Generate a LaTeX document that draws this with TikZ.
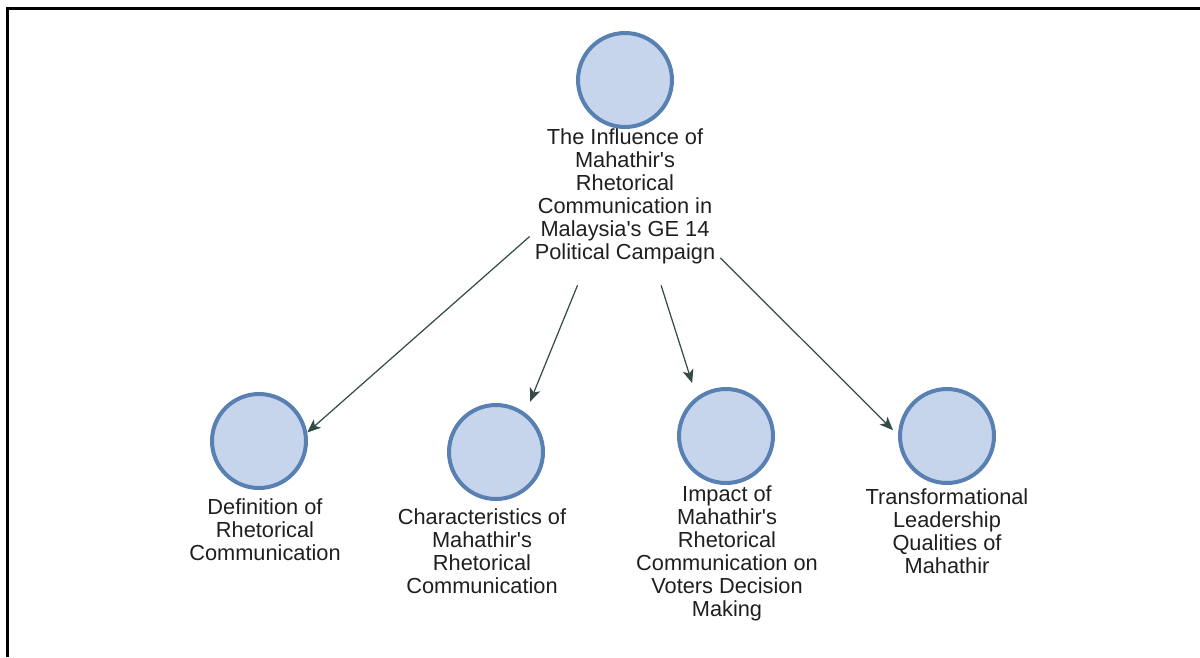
\documentclass[tikz,border=0pt]{standalone}
\usepackage{fontspec}
\setmainfont{Liberation Sans}
\usetikzlibrary{arrows.meta}

\definecolor{nodefill}{RGB}{198,213,235}
\definecolor{nodeline}{RGB}{88,128,178}
\definecolor{linkcol}{RGB}{52,76,72}

\tikzset{
 topic/.style={circle, draw=nodeline, fill=nodefill, line width=0.08cm, minimum size=1.88cm, inner sep=0pt},
 caption/.style={align=center, inner sep=0pt, text=black!88, font=\fontsize{12.4}{13.1}\selectfont},
 link/.style={draw=linkcol, line width=0.7pt, -{Stealth[length=0.27cm, width=0.22cm, inset=0.07cm]}}
}

\begin{document}
\begin{tikzpicture}[x=0.02cm, y=-0.02cm]
\useasboundingbox (0,0) rectangle (1200,657);
% frame
\draw[line width=0.06cm] (1200,8.5) -| (7.5,657);

% main topic
\node[topic] (root) at (625,80) {};
\node[caption, minimum width=3.8cm, minimum height=3.56cm] (rootlbl) at (625,196)
 {The Influence of\\Mahathir\textquotesingle s\\Rhetorical\\Communication in\\Malaysia\textquotesingle s GE 14\\Political Campaign};

% sub topics
\foreach \n/\x/\y in {def/259/441, cha/496/452, imp/726/436, tra/947/436} {
 \node[topic] (\n) at (\x,\y) {};
}
\node[caption] (deflbl) at (265,530) {Definition of\\Rhetorical\\Communication};
\node[caption] (chalbl) at (482,551) {Characteristics of\\Mahathir\textquotesingle s\\Rhetorical\\Communication};
\node[caption] (implbl) at (727,553) {Impact of\\Mahathir\textquotesingle s\\Rhetorical\\Communication on\\Voters Decision\\Making};
\node[caption] (tralbl) at (947,531) {Transformational\\Leadership\\Qualities of\\Mahathir};

% links
\draw[link] (rootlbl.203) -- (def.10);
\draw[link, shorten >=0.24cm] (rootlbl.242) -- (cha.53);
\draw[link, shorten >=0.29cm] (rootlbl.292) -- (imp.127);
\draw[link, shorten >=0.14cm] (rootlbl.327) -- (tra.179);
\end{tikzpicture}
\end{document}
